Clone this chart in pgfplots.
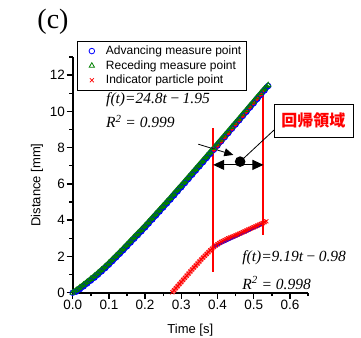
\documentclass[border=0pt]{standalone}
\usepackage{fontspec}
\setmainfont{Liberation Sans}
\newfontfamily\serif{Liberation Serif}
\newfontfamily\cjk{Noto Sans CJK JP}
\usepackage{pgfplots}
\usepackage{pgfplotstable}
\pgfplotsset{compat=1.18}
\usetikzlibrary{arrows.meta}
\definecolor{pgreen}{RGB}{0,128,0}

\pgfplotstableread{
t v
0.00 0.00
0.01 0.14
0.02 0.29
0.03 0.44
0.04 0.60
0.05 0.76
0.06 0.92
0.07 1.09
0.08 1.27
0.09 1.45
0.10 1.64
0.11 1.84
0.12 2.04
0.13 2.24
0.14 2.44
0.15 2.65
0.16 2.86
0.17 3.07
0.18 3.27
0.19 3.48
0.20 3.69
0.21 3.91
0.22 4.13
0.23 4.35
0.24 4.57
0.25 4.79
0.26 5.01
0.27 5.23
0.28 5.46
0.29 5.69
0.30 5.91
0.31 6.14
0.32 6.37
0.33 6.60
0.34 6.83
0.35 7.06
0.36 7.29
0.37 7.52
0.38 7.75
0.39 7.98
0.40 8.21
0.41 8.44
0.42 8.67
0.43 8.90
0.44 9.14
0.45 9.37
0.46 9.60
0.47 9.84
0.48 10.07
0.49 10.31
0.50 10.54
0.51 10.78
0.52 11.01
0.53 11.25
0.54 11.45
}\receding

\pgfplotstableread{
t v
0.00 0.00
0.01 0.06
0.02 0.20
0.03 0.35
0.04 0.51
0.05 0.67
0.06 0.83
0.07 1.00
0.08 1.18
0.09 1.36
0.10 1.55
0.11 1.75
0.12 1.95
0.13 2.15
0.14 2.35
0.15 2.56
0.16 2.77
0.17 2.98
0.18 3.18
0.19 3.39
0.20 3.60
0.21 3.82
0.22 4.04
0.23 4.26
0.24 4.48
0.25 4.70
0.26 4.92
0.27 5.14
0.28 5.37
0.29 5.60
0.30 5.82
0.31 6.05
0.32 6.28
0.33 6.51
0.34 6.74
0.35 6.97
0.36 7.20
0.37 7.43
0.38 7.66
0.39 7.89
0.40 8.12
0.41 8.35
0.42 8.58
0.43 8.81
0.44 9.05
0.45 9.28
0.46 9.51
0.47 9.75
0.48 9.98
0.49 10.22
0.50 10.45
0.51 10.69
0.52 10.92
0.53 11.16
0.54 11.40
}\advancing

\pgfplotstableread{
t v
0.275 0.02
0.280 0.13
0.285 0.25
0.290 0.36
0.295 0.48
0.300 0.59
0.305 0.71
0.310 0.82
0.315 0.94
0.320 1.05
0.325 1.17
0.330 1.28
0.335 1.39
0.340 1.50
0.345 1.61
0.350 1.72
0.355 1.83
0.360 1.94
0.365 2.04
0.370 2.14
0.375 2.24
0.380 2.34
0.385 2.43
0.390 2.52
0.395 2.60
0.400 2.67
0.405 2.74
0.410 2.80
0.415 2.85
0.420 2.90
0.425 2.95
0.430 3.00
0.435 3.04
0.440 3.08
0.445 3.12
0.450 3.16
0.455 3.20
0.460 3.25
0.465 3.29
0.470 3.34
0.475 3.38
0.480 3.43
0.485 3.48
0.490 3.52
0.495 3.57
0.500 3.61
0.505 3.66
0.510 3.70
0.515 3.75
0.520 3.79
0.525 3.84
0.530 3.89
0.535 3.94
}\indicator

\begin{document}
\begin{tikzpicture}
\path[use as bounding box] (0pt,0pt) rectangle (361pt,337pt);
\node[font=\serif\fontsize{28}{30}\selectfont] at (53pt,315pt) {(c)};
\begin{axis}[
  scale only axis, width=235.3pt, height=235.7pt,
  at={(72.7pt,44.3pt)}, anchor=south west,
  clip=false,
  xmin=0, xmax=0.65, ymin=0, ymax=13,
  axis x line=bottom, axis y line=left,
  axis line style={line width=1.6pt,-},
  xtick={0,0.1,0.2,0.3,0.4,0.5,0.6},
  minor xtick={0.05,0.15,0.25,0.35,0.45,0.55,0.65},
  ytick={0,2,4,6,8,10,12},
  minor ytick={1,3,5,7,9,11,13},
  tick align=outside,
  major tick length=6pt, minor tick length=3.5pt,
  every tick/.style={line width=1.4pt, black},
  /pgf/number format/assume math mode=true,
  xticklabel style={/pgf/number format/fixed, /pgf/number format/fixed zerofill, /pgf/number format/precision=1, inner sep=1.5pt},
  yticklabel style={inner sep=1.5pt},
  tick label style={font=\fontsize{13.5}{15}\selectfont},
  label style={font=\fontsize{13}{15}\selectfont},
  xlabel={Time [s]},
  ylabel={Distance [mm]},
  xlabel style={at={(axis description cs:0.5,-0.158)}, anchor=center},
  ylabel style={at={(axis description cs:-0.152,0.457)}, anchor=center, rotate=0},
  legend style={at={(rel axis cs:0.018,1.068)}, anchor=north west, draw=black, line width=0.8pt,
    font=\fontsize{12}{13}\selectfont, cells={anchor=west}, inner xsep=3pt, inner ysep=3pt,
    row sep=1.2pt, nodes={inner sep=1.6pt}},
  legend image code/.code={\path[draw=none] (0pt,0pt) -- (24pt,0pt); \draw[#1, line width=0.8pt] plot coordinates {(11.5pt,0pt)};},
]
% bands under the markers
\addplot[blue, line width=5pt, forget plot] table[x=t,y=v] {\advancing};
\addplot[pgreen, line width=5pt, forget plot] table[x=t,y=v] {\receding};
\addplot[red!55, line width=5pt, forget plot] table[x=t,y=v] {\indicator};
% markers
\addplot[only marks, mark=o, blue, mark size=2.8pt, mark options={line width=0.8pt}] table[x=t,y=v] {\advancing};
\addlegendentry{Advancing measure point}
\addplot[only marks, mark=triangle, pgreen, mark size=3pt, mark options={line width=0.8pt}] table[x=t,y=v] {\receding};
\addlegendentry{Receding measure point}
\addplot[only marks, mark=x, red, mark size=2.8pt, mark options={line width=0.8pt}] table[x=t,y=v] {\indicator};
\addlegendentry{Indicator particle point}
% fit lines
\addplot[red, line width=2.4pt, forget plot] coordinates {(0.390,7.78) (0.527,11.08)};
\addplot[blue, line width=3pt, forget plot] coordinates {(0.388,2.52) (0.527,3.82)};
% region limits
\addplot[red, line width=2pt, forget plot] coordinates {(0.388,1.15) (0.388,9.1)};
\addplot[red, line width=2pt, forget plot] coordinates {(0.527,3.2) (0.527,11.2)};
% annotations
\draw[line width=1pt, {Triangle[length=11pt,width=10pt]}-{Triangle[length=11pt,width=10pt]}] (axis cs:0.388,7.05) -- (axis cs:0.527,7.05);
\draw[line width=0.8pt, -{Triangle[length=9pt,width=8pt]}] (axis cs:0.347,8.19) -- (axis cs:0.4436,7.60);
\draw[line width=0.8pt] (axis cs:0.4625,7.23) -- (axis cs:0.556,8.97);
\fill (axis cs:0.4625,7.23) circle[radius=5.3pt];
\node[draw=black, line width=0.8pt, fill=white, minimum width=79pt, minimum height=33pt, inner sep=0pt,
  text=red, font=\cjk\bfseries\fontsize{16}{18}\selectfont] at (axis cs:0.665,9.50) {回帰領域};
\node[anchor=west, inner sep=0pt, font=\serif\itshape\fontsize{15.5}{18}\selectfont] at (axis cs:0.092,10.63) {f(t)=24.8t\,−\,1.95};
\node[anchor=west, inner sep=0pt, font=\serif\itshape\fontsize{15.5}{18}\selectfont] at (axis cs:0.092,9.43) {R\textsuperscript{2} = 0.999};
\node[anchor=west, inner sep=0pt, font=\serif\itshape\fontsize{15.5}{18}\selectfont] at (axis cs:0.468,1.91) {f(t)=9.19t\,−\,0.98};
\node[anchor=west, inner sep=0pt, font=\serif\itshape\fontsize{15.5}{18}\selectfont] at (axis cs:0.468,0.535) {R\textsuperscript{2} = 0.998};
\end{axis}
\end{tikzpicture}
\end{document}
